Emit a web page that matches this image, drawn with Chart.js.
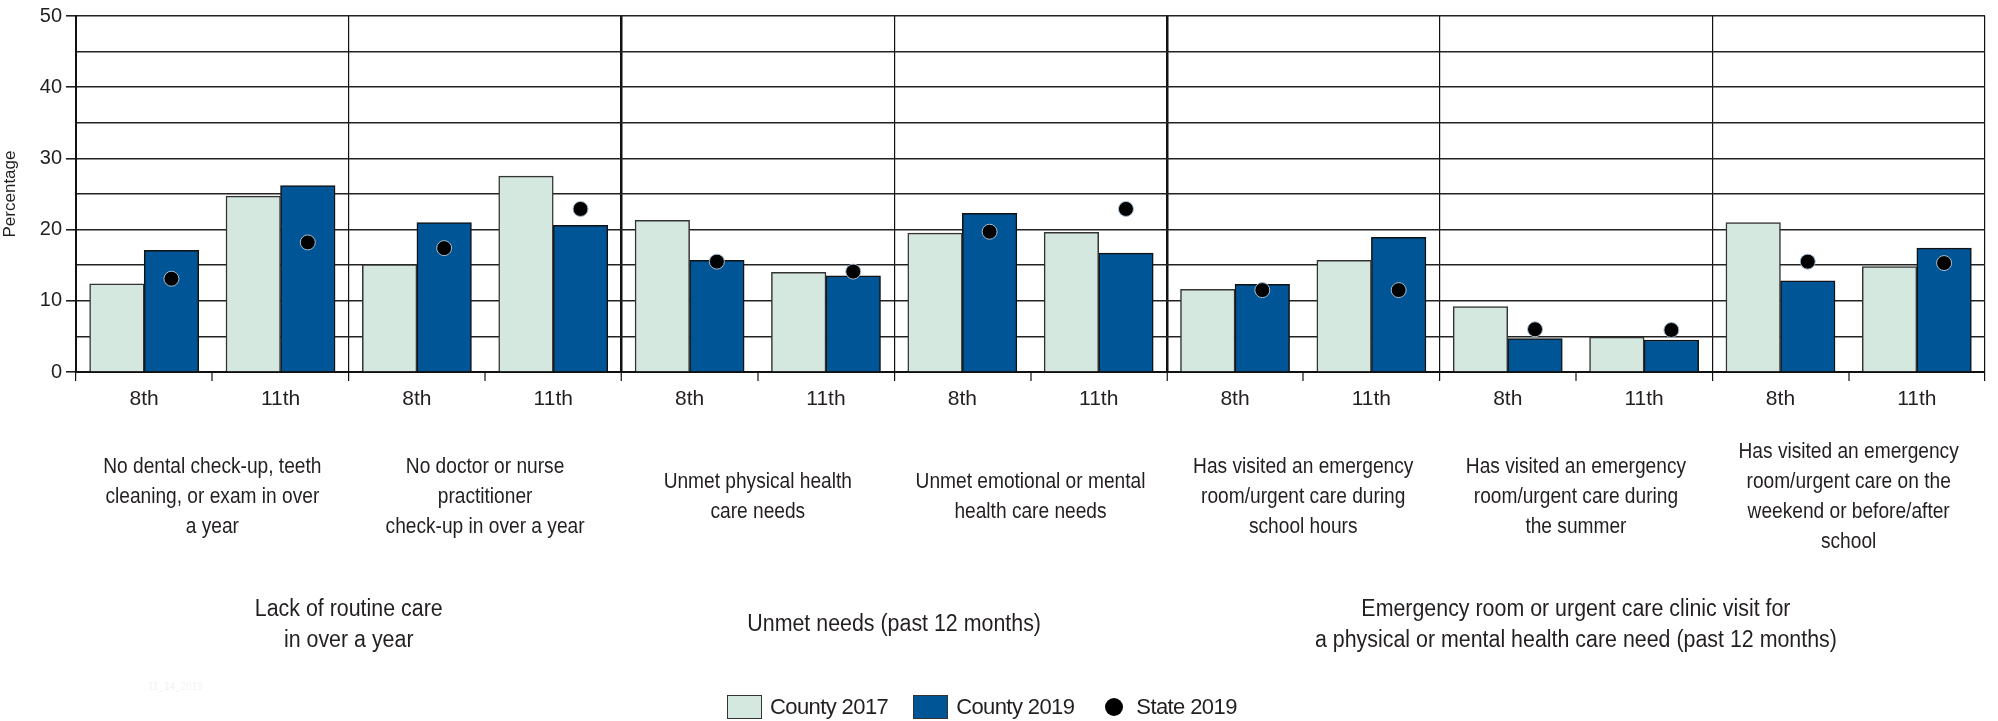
<!DOCTYPE html>
<html>
<head>
<meta charset="utf-8">
<script src="https://cdn.jsdelivr.net/npm/chart.js@4"></script>
<style>
  body { margin: 0; background: #fff; font-family: "Liberation Sans", Arial, sans-serif; }
  #wrap { position: relative; width: 1998px; height: 721px; }
  #legend { position: absolute; left: 727px; top: 694px; height: 26px; display: flex; align-items: center; font-size: 22px; letter-spacing: -0.6px; color: #231f20; }
  .item { display: flex; align-items: center; margin-right: 25px; }
  .box { width: 35px; height: 24px; border: 1px solid #333; margin-right: 8px; box-sizing: border-box; }
  .dot { width: 18px; height: 18px; border-radius: 50%; background: #000; margin-right: 13px; margin-left: 6px; }
  #stamp { position: absolute; left: 148px; top: 681px; font-size: 10px; color: #f2f2f2; }
</style>
</head>
<body>
<div id="wrap">
  <canvas id="chart" width="1998" height="721"></canvas>
  <div id="stamp">11_14_2019</div>
  <div id="legend">
    <div class="item"><div class="box" style="background:#d5e8e0"></div>County 2017</div>
    <div class="item"><div class="box" style="background:#005596"></div>County 2019</div>
    <div class="item"><div class="dot"></div>State 2019</div>
  </div>
</div>
<script>
// data
const grades = ['8th', '11th', '8th', '11th', '8th', '11th', '8th', '11th', '8th', '11th', '8th', '11th', '8th', '11th'];
const county2017 = [12.4, 24.7, 15.1, 27.5, 21.3, 14.0, 19.5, 19.6, 11.6, 15.7, 9.2, 4.9, 21.0, 14.8];
const county2019 = [17.1, 26.2, 21.0, 20.6, 15.7, 13.5, 22.3, 16.7, 12.3, 18.9, 4.7, 4.5, 12.8, 17.4];
const state2019 = [13.1, 18.2, 17.4, 22.9, 15.5, 14.1, 19.7, 22.9, 11.5, 11.5, 6.0, 5.9, 15.5, 15.3];

const subgroupLabels = [
    ['No dental check-up, teeth', 'cleaning, or exam in over', 'a year'],
    ['No doctor or nurse', 'practitioner', 'check-up in over a year'],
    ['Unmet physical health', 'care needs'],
    ['Unmet emotional or mental', 'health care needs'],
    ['Has visited an emergency', 'room/urgent care during', 'school hours'],
    ['Has visited an emergency', 'room/urgent care during', 'the summer'],
    ['Has visited an emergency', 'room/urgent care on the', 'weekend or before/after', 'school']
];
// first and last category index of each top group
const groupLabels = [
    { lines: ['Lack of routine care', 'in over a year'], from: 0, to: 3 },
    { lines: ['Unmet needs (past 12 months)'], from: 4, to: 7 },
    { lines: ['Emergency room or urgent care clinic visit for', 'a physical or mental health care need (past 12 months)'], from: 8, to: 13 }
];

const FONT = '"Liberation Sans", Arial, sans-serif';

// x is a linear axis, category i spans [i, i+1]
const pts2017 = county2017.map((v, i) => ({ x: i + 0.5, y: v }));
const pts2019 = county2019.map((v, i) => ({ x: i + 0.5, y: v }));
// dots sit on the centre of the County 2019 bar
const statePoints = state2019.map((v, i) => ({ x: i + 0.7, y: v }));

// condensed text for the labels under the axis
function drawNarrow(ctx, text, x, y, sx) {
    ctx.save();
    ctx.translate(x, y);
    ctx.scale(sx, 1);
    ctx.fillText(text, 0, 0);
    ctx.restore();
}

const labelPlugin = {
    id: 'labelPlugin',
    afterDraw(chart) {
        const ctx = chart.ctx;
        const xs = chart.scales.x;
        ctx.save();
        ctx.fillStyle = '#231f20';
        ctx.textAlign = 'center';
        ctx.textBaseline = 'middle';
        ctx.font = '22px ' + FONT;
        const lh = 30;
        subgroupLabels.forEach((lines, k) => {
            const cx = xs.getPixelForValue(2 * k + 1);
            const y0 = 497 - (lines.length - 1) * lh / 2;
            lines.forEach((t, j) => drawNarrow(ctx, t, cx, y0 + j * lh, 0.87));
        });
        ctx.font = '23px ' + FONT;
        groupLabels.forEach(g => {
            const cx = (xs.getPixelForValue(g.from) + xs.getPixelForValue(g.to + 1)) / 2;
            const y0 = 625 - (g.lines.length - 1) * 31 / 2;
            g.lines.forEach((t, j) => drawNarrow(ctx, t, cx, y0 + j * 31, 0.93));
        });
        ctx.restore();
    }
};

const barOpts = {
    borderWidth: 1.5,
    barThickness: 'flex',
    categoryPercentage: 0.8,
    barPercentage: 1.0,
    order: 1
};

const ctx = document.getElementById('chart').getContext('2d');
new Chart(ctx, {
    type: 'bar',
    data: {
        datasets: [
            {
                type: 'scatter',
                label: 'State 2019',
                data: statePoints,
                backgroundColor: '#000',
                borderColor: '#a9bfd3',
                borderWidth: 1,
                pointRadius: 7.5,
                order: 0
            },
            Object.assign({
                label: 'County 2017',
                data: pts2017,
                backgroundColor: '#d5e8e0',
                borderColor: '#333'
            }, barOpts),
            Object.assign({
                label: 'County 2019',
                data: pts2019,
                backgroundColor: '#005596',
                borderColor: '#111'
            }, barOpts)
        ]
    },
    options: {
        responsive: false,
        animation: false,
        layout: { padding: { left: 0, right: 13, top: 6, bottom: 0 } },
        plugins: {
            legend: { display: false },
            tooltip: { enabled: false }
        },
        scales: {
            x: {
                type: 'linear',
                min: 0,
                max: grades.length,
                offset: false,
                afterFit(scale) { scale.height = 349; },
                // boundaries on whole numbers, grade labels at the half steps
                afterBuildTicks(scale) {
                    const t = [];
                    for (let j = 0; j <= grades.length * 2; j++) t.push({ value: j / 2 });
                    scale.ticks = t;
                },
                border: { display: true, color: '#111', width: 2 },
                grid: {
                    offset: false,
                    color: '#111',
                    lineWidth: c => {
                        const v = c.tick ? c.tick.value : -1;
                        if (!Number.isInteger(v)) return 0;
                        if (v === 4 || v === 8) return 2.5;
                        return v % 2 === 0 ? 1.2 : 0;
                    },
                    tickWidth: c => (c.tick && Number.isInteger(c.tick.value)) ? 1.2 : 0,
                    tickColor: '#111',
                    tickLength: 9,
                    drawTicks: true
                },
                ticks: {
                    color: '#231f20',
                    font: { family: FONT, size: 21 },
                    padding: 6,
                    maxRotation: 0,
                    autoSkip: false,
                    callback: v => (Number.isInteger(v) ? '' : grades[Math.floor(v)])
                }
            },
            y: {
                min: 0,
                max: 50,
                afterFit(scale) { scale.width = 76; },
                border: { display: true, color: '#111', width: 2 },
                grid: {
                    color: '#222',
                    lineWidth: 1.6,
                    tickLength: 10,
                    tickWidth: c => (c.tick && c.tick.value % 10 === 0) ? 1.5 : 0,
                    tickColor: '#111'
                },
                ticks: {
                    stepSize: 5,
                    color: '#231f20',
                    font: { family: FONT, size: 20 },
                    padding: 4,
                    callback: v => (v % 10 === 0 ? v : '')
                },
                title: {
                    display: true,
                    text: 'Percentage',
                    color: '#231f20',
                    font: { family: FONT, size: 17 },
                    padding: { top: 0, bottom: 4 }
                }
            }
        }
    },
    plugins: [labelPlugin]
});
</script>
</body>
</html>
